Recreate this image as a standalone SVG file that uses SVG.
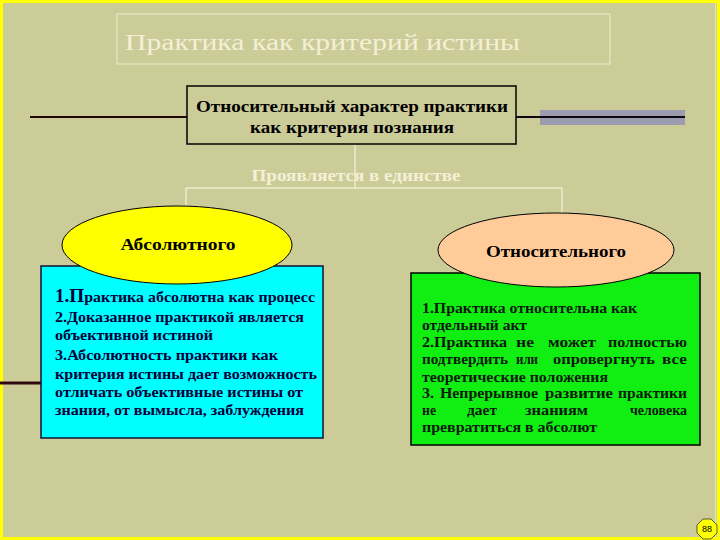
<svg xmlns="http://www.w3.org/2000/svg" width="720" height="540" viewBox="0 0 720 540">
<style>
.bg{fill:#cccc99}
.lt{font-family:"Liberation Serif","DejaVu Serif",serif;fill:#f4f0d6}
.bt{font-family:"Liberation Serif","DejaVu Serif",serif;font-weight:bold}
.conn{stroke:#eeeccc;stroke-width:1.5;fill:none}
.lb{font-family:"Liberation Serif","DejaVu Serif",serif;font-weight:bold;font-size:15px;fill:#00003a}
.rb{font-family:"Liberation Serif","DejaVu Serif",serif;font-weight:bold;font-size:15px;fill:#0a1a0a}
</style>
<rect class="bg" x="0" y="0" width="720" height="540"/>
<rect x="1.5" y="1.5" width="717" height="537" fill="none" stroke="#ffff00" stroke-width="3"/>
<line x1="715.5" y1="3" x2="715.5" y2="537" stroke="#e8e8c0" stroke-width="1"/>

<g id="title">
<rect x="117" y="14" width="493" height="50" fill="none" stroke="#eeeccc" stroke-width="1"/>
<text class="lt" x="125" y="50" font-size="24" textLength="395" lengthAdjust="spacingAndGlyphs">Практика как критерий истины</text>
</g>

<g id="connectors">
<rect x="540" y="110" width="145" height="15" fill="#9c9cb0"/>
<line x1="30" y1="117" x2="187" y2="117" stroke="#200808" stroke-width="2"/>
<line x1="516" y1="117" x2="685" y2="117" stroke="#100810" stroke-width="2"/>
<line x1="0" y1="383" x2="41" y2="383" stroke="#300810" stroke-width="3"/>
<path class="conn" d="M355 144 V188 M186 188 H562 M186 188 V207 M562 188 V215"/>
</g>

<g id="center">
<rect x="187" y="86" width="329" height="58" fill="#cccc99" stroke="#000" stroke-width="1.5"/>
<text class="bt" x="352" y="112" font-size="17" text-anchor="middle" textLength="312" lengthAdjust="spacingAndGlyphs">Относительный характер практики</text>
<text class="bt" x="352" y="133" font-size="17" text-anchor="middle" textLength="204" lengthAdjust="spacingAndGlyphs">как критерия познания</text>
</g>

<g id="label">
<text class="lt" x="356" y="181" font-size="16" font-weight="bold" text-anchor="middle" textLength="209" lengthAdjust="spacingAndGlyphs">Проявляется в единстве</text>
</g>

<g id="left-box">
<rect x="41" y="266" width="282" height="172" fill="#00ffff" stroke="#101030" stroke-width="1.5"/>
<text class="lb" x="55" y="302" textLength="260" lengthAdjust="spacingAndGlyphs"><tspan font-size="18">1.П</tspan>рактика абсолютна как процесс</text>
<text class="lb" x="55" y="322" textLength="249" lengthAdjust="spacingAndGlyphs">2.Доказанное практикой является</text>
<text class="lb" x="55" y="340" textLength="158" lengthAdjust="spacingAndGlyphs">объективной истиной</text>
<text class="lb" x="55" y="360" textLength="223" lengthAdjust="spacingAndGlyphs">3.Абсолютность практики как</text>
<text class="lb" x="55" y="379" textLength="262" lengthAdjust="spacingAndGlyphs">критерия истины дает возможность</text>
<text class="lb" x="55" y="397" textLength="248" lengthAdjust="spacingAndGlyphs">отличать объективные истины от</text>
<text class="lb" x="55" y="415" textLength="249" lengthAdjust="spacingAndGlyphs">знания, от вымысла, заблуждения</text>
</g>

<g id="left-ellipse">
<ellipse cx="177" cy="245" rx="115" ry="39" fill="#ffff00" stroke="#000" stroke-width="1"/>
<text class="bt" x="178" y="250" font-size="16" text-anchor="middle" textLength="115" lengthAdjust="spacingAndGlyphs">Абсолютного</text>
</g>

<g id="right-box">
<rect x="411" y="273" width="289" height="172" fill="#11ee11" stroke="#000" stroke-width="1.5"/>
<text class="rb" x="422" y="313" textLength="215" lengthAdjust="spacingAndGlyphs">1.Практика относительна как</text>
<text class="rb" x="422" y="330" textLength="105" lengthAdjust="spacingAndGlyphs">отдельный акт</text>
<text class="rb" x="422" y="347" textLength="85" lengthAdjust="spacingAndGlyphs">2.Практика</text>
<text class="rb" x="516" y="347" textLength="18" lengthAdjust="spacingAndGlyphs">не</text>
<text class="rb" x="548" y="347" textLength="48" lengthAdjust="spacingAndGlyphs">может</text>
<text class="rb" x="608" y="347" textLength="79" lengthAdjust="spacingAndGlyphs">полностью</text>
<text class="rb" x="422" y="364" textLength="86" lengthAdjust="spacingAndGlyphs">подтвердить</text>
<text class="rb" x="516" y="364" textLength="22" lengthAdjust="spacingAndGlyphs">или</text>
<text class="rb" x="553" y="364" textLength="102" lengthAdjust="spacingAndGlyphs">опровергнуть</text>
<text class="rb" x="662" y="364" textLength="25" lengthAdjust="spacingAndGlyphs">все</text>
<text class="rb" x="422" y="382" textLength="186" lengthAdjust="spacingAndGlyphs">теоретические положения</text>
<text class="rb" x="422" y="398" textLength="12" lengthAdjust="spacingAndGlyphs">3.</text>
<text class="rb" x="440" y="398" textLength="98" lengthAdjust="spacingAndGlyphs">Непрерывное</text>
<text class="rb" x="545" y="398" textLength="68" lengthAdjust="spacingAndGlyphs">развитие</text>
<text class="rb" x="618" y="398" textLength="69" lengthAdjust="spacingAndGlyphs">практики</text>
<text class="rb" x="422" y="415" textLength="14" lengthAdjust="spacingAndGlyphs">не</text>
<text class="rb" x="467" y="415" textLength="30" lengthAdjust="spacingAndGlyphs">дает</text>
<text class="rb" x="525" y="415" textLength="63" lengthAdjust="spacingAndGlyphs">знаниям</text>
<text class="rb" x="630" y="415" textLength="57" lengthAdjust="spacingAndGlyphs">человека</text>
<text class="rb" x="422" y="432" textLength="175" lengthAdjust="spacingAndGlyphs">превратиться в абсолют</text>
</g>

<g id="right-ellipse">
<ellipse cx="556" cy="250" rx="118" ry="37" fill="#ffcc99" stroke="#000" stroke-width="1"/>
<text class="bt" x="556" y="257" font-size="16" text-anchor="middle" textLength="140" lengthAdjust="spacingAndGlyphs">Относительного</text>
</g>

<g id="page-number">
<polygon points="703,519 711,519 717,525 717,533 711,539 703,539 697,533 697,525" fill="#ffff00" stroke="#333" stroke-width="0.8"/>
<text x="707" y="532" font-family="Liberation Sans, sans-serif" font-size="9" text-anchor="middle" fill="#000">88</text>
</g>
</svg>
